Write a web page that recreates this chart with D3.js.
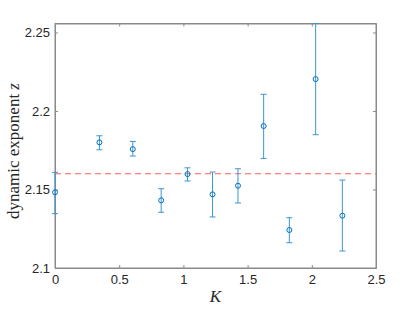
<!DOCTYPE html>
<html>
<head>
<meta charset="utf-8">
<script src="https://cdn.jsdelivr.net/npm/d3@7"></script>
<style>
    body { margin: 0; background: #fff; }
    .tick text { font-family: "Liberation Sans", Arial, sans-serif; font-size: 13px; fill: #262626; }
    .lbl { font-family: "Liberation Serif", "DejaVu Serif", serif; fill: #262626; }
</style>
</head>
<body>
<div id="chart"></div>
<script>
// K values, dynamic exponent z and error bar ends
const kValues = [0, 0.346, 0.606, 0.827, 1.032, 1.227, 1.425, 1.625, 1.825, 2.03, 2.238];
const zValues = [2.1482, 2.1800, 2.1757, 2.1431, 2.1598, 2.1469, 2.1524, 2.1904, 2.1242, 2.2203, 2.1333];
const zLower = [2.1346, 2.1753, 2.1713, 2.1355, 2.1554, 2.1325, 2.1414, 2.1698, 2.1161, 2.1849, 2.1108];
const zUpper = [2.1609, 2.1842, 2.1806, 2.1505, 2.1638, 2.1611, 2.1632, 2.2106, 2.1320, 2.2557, 2.1560];
const refZ = 2.16;

const xTicks = [0, 0.5, 1, 1.5, 2, 2.5];
const yTicks = [2.1, 2.15, 2.2, 2.25];

const width = 415, height = 312;
const margin = {top: 23.5, right: 39, bottom: 44, left: 55};

const svg = d3.select("#chart").append("svg")
    .attr("width", width)
    .attr("height", height);

const x = d3.scaleLinear()
    .domain([0, 2.5])
    .range([margin.left, width - margin.right]);

const y = d3.scaleLinear()
    .domain([2.1, 2.2557])
    .range([height - margin.bottom, margin.top]);

const axisColor = "#8a8a8a";

// box
svg.append("rect")
    .attr("x", x(0))
    .attr("y", y(2.2557))
    .attr("width", x(2.5) - x(0))
    .attr("height", y(2.1) - y(2.2557))
    .attr("fill", "none")
    .attr("stroke", axisColor)
    .attr("stroke-width", 1);

svg.append("g")
    .attr("transform", "translate(0," + y(2.1) + ")")
    .call(d3.axisBottom(x).tickValues(xTicks).tickSizeInner(-3).tickSizeOuter(0).tickPadding(7)
        .tickFormat(d => d3.format("")(d)));

svg.append("g")
    .attr("transform", "translate(" + x(0) + ",0)")
    .call(d3.axisLeft(y).tickValues(yTicks).tickSizeInner(-3).tickSizeOuter(0).tickPadding(5)
        .tickFormat(d => d3.format("")(d)));

// ticks on top and right sides
svg.append("g")
    .attr("transform", "translate(0," + y(2.2557) + ")")
    .call(d3.axisTop(x).tickValues(xTicks).tickSizeInner(-3).tickSizeOuter(0).tickFormat(""));
svg.append("g")
    .attr("transform", "translate(" + x(2.5) + ",0)")
    .call(d3.axisRight(y).tickValues(yTicks).tickSizeInner(-3).tickSizeOuter(0).tickFormat(""));

svg.selectAll(".domain").attr("stroke", axisColor);
svg.selectAll(".tick line").attr("stroke", axisColor);

// reference line
svg.append("line")
    .attr("x1", x(0))
    .attr("x2", x(2.5))
    .attr("y1", y(refZ))
    .attr("y2", y(refZ))
    .attr("stroke", "#ff5c5c")
    .attr("stroke-width", 1)
    .attr("stroke-dasharray", "6,4");

const points = kValues.map((k, i) => ({k: k, z: zValues[i], lo: zLower[i], hi: zUpper[i]}));

const errColor = "#3c95d3";
const bars = svg.append("g");
bars.selectAll("line.err")
    .data(points)
    .join("line")
    .attr("x1", d => x(d.k))
    .attr("x2", d => x(d.k))
    .attr("y1", d => y(d.lo))
    .attr("y2", d => y(d.hi))
    .attr("stroke", errColor)
    .attr("stroke-width", 1);

const capW = 3;
["lo", "hi"].forEach(key => {
    bars.selectAll("line.cap-" + key)
        .data(points)
        .join("line")
        .attr("x1", d => x(d.k) - capW)
        .attr("x2", d => x(d.k) + capW)
        .attr("y1", d => y(d[key]))
        .attr("y2", d => y(d[key]))
        .attr("stroke", errColor)
        .attr("stroke-width", 1);
});

svg.append("g").selectAll("circle")
    .data(points)
    .join("circle")
    .attr("cx", d => x(d.k))
    .attr("cy", d => y(d.z))
    .attr("r", 2.5)
    .attr("fill", "none")
    .attr("stroke", "#0072bd")
    .attr("stroke-width", 1);

// labels
svg.append("text")
    .attr("class", "lbl")
    .attr("x", (x(0) + x(2.5)) / 2)
    .attr("y", 302)
    .attr("text-anchor", "middle")
    .attr("font-size", 17)
    .attr("font-style", "italic")
    .text("K");

svg.append("text")
    .attr("class", "lbl")
    .attr("transform", "translate(19,151) rotate(-90)")
    .attr("text-anchor", "middle")
    .attr("font-size", 17)
    .text("dynamic exponent ")
    .append("tspan")
    .attr("font-style", "italic")
    .text("z");
</script>
</body>
</html>
